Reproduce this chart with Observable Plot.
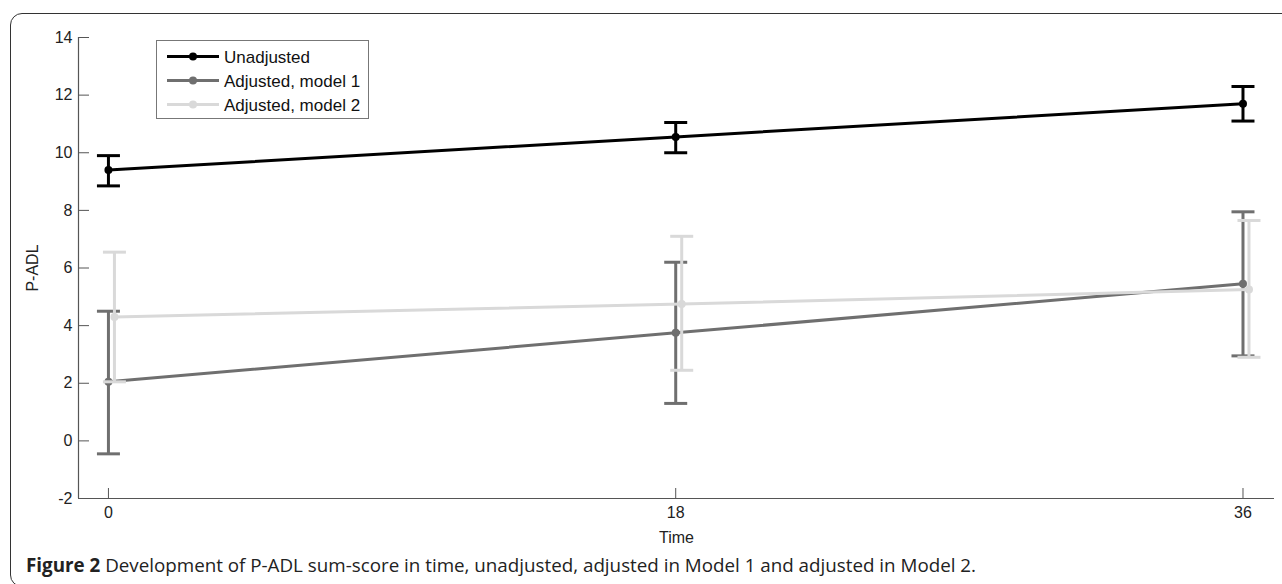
<!DOCTYPE html>
<html>
<head>
<meta charset="utf-8">
<script src="https://cdn.jsdelivr.net/npm/d3@7"></script>
<script src="https://cdn.jsdelivr.net/npm/@observablehq/plot@0.6"></script>
<style>
  html, body { margin: 0; padding: 0; background: #fff; }
  #wrap { position: relative; width: 1282px; height: 584px; overflow: hidden; background: #fff; }
  #frame { position: absolute; left: 10px; top: 13px; width: 1300px; height: 574px; border: 1.5px solid #333; border-radius: 12px; box-sizing: border-box; }
  #chart { position: absolute; left: 0; top: 0; }
  #legend { position: absolute; left: 156px; top: 40px; width: 213px; height: 79px; border: 1px solid #777; box-sizing: border-box; background: #fff; }
  #caption { position: absolute; left: 26px; top: 555px; font-family: "Open Sans", sans-serif; font-size: 18.8px; line-height: 20px; color: #222; white-space: nowrap; }
  #caption b { font-weight: 700; }
</style>
</head>
<body>
<div id="wrap">
  <div id="frame"></div>
  <div id="chart"></div>
  <div id="legend"></div>
  <div id="caption"><b>Figure 2</b> Development of P-ADL sum-score in time, unadjusted, adjusted in Model 1 and adjusted in Model 2.</div>
</div>
<script>
// ---- data ----
const times = [0, 18, 36];
const seriesNames = ["Unadjusted", "Adjusted, model 1", "Adjusted, model 2"];
const seriesColors = ["#000000", "#6f6f6f", "#d9d9d9"];
const seriesOffsets = [0, 0, 6];

const unadjMean = [9.4, 10.55, 11.7];
const unadjLow  = [8.85, 10.0, 11.1];
const unadjHigh = [9.9, 11.05, 12.3];

const m1Mean = [2.05, 3.75, 5.45];
const m1Low  = [-0.45, 1.3, 2.95];
const m1High = [4.5, 6.2, 7.95];

const m2Mean = [4.3, 4.75, 5.25];
const m2Low  = [2.05, 2.45, 2.9];
const m2High = [6.55, 7.1, 7.65];

const xTicks = [0, 18, 36];
const yTicks = [-2, 0, 2, 4, 6, 8, 10, 12, 14];

const seriesData = [
  [unadjMean, unadjLow, unadjHigh],
  [m1Mean, m1Low, m1High],
  [m2Mean, m2Low, m2High]
].map(([m, lo, hi], s) => times.map((t, i) => ({t, mean: m[i], lo: lo[i], hi: hi[i], series: seriesNames[s]})));

const capSymbol = { draw(ctx) { ctx.moveTo(-11.5, 0); ctx.lineTo(11.5, 0); } };

const font = "Liberation Sans, Arial, sans-serif";
const fmt = d => String(d);
const marks = [
  Plot.ruleY([-2], {stroke: "#555", strokeWidth: 1.2}),
  Plot.ruleX([-0.95], {stroke: "#555", strokeWidth: 1.2}),
  Plot.axisY(yTicks, {tickSize: -11, tickPadding: 17, stroke: "#555", fontSize: 16, fill: "#222", tickFormat: fmt,
    label: "P-ADL", labelAnchor: "center", labelArrow: "none", labelOffset: 52}),
  Plot.axisX(xTicks, {tickSize: -10, tickPadding: 18, stroke: "#555", fontSize: 16, fill: "#222", tickFormat: fmt,
    label: "Time", labelAnchor: "center", labelArrow: "none", labelOffset: 44})
];
const order = [1, 2, 0];
for (const s of order) {
  const data = seriesData[s];
  const c = seriesColors[s];
  const dx = seriesOffsets[s];
  marks.push(
    Plot.line(data, {x: "t", y: "mean", stroke: c, strokeWidth: 3, dx}),
    Plot.ruleX(data, {x: "t", y1: "lo", y2: "hi", stroke: c, strokeWidth: 3, dx}),
    Plot.dot(data, {x: "t", y: "lo", symbol: capSymbol, stroke: c, strokeWidth: 3, fill: "none", dx}),
    Plot.dot(data, {x: "t", y: "hi", symbol: capSymbol, stroke: c, strokeWidth: 3, fill: "none", dx}),
    Plot.dot(data, {x: "t", y: "mean", r: 4, fill: c, stroke: "none", dx})
  );
}

const chart = Plot.plot({
  width: 1282,
  height: 548,
  marginLeft: 78,
  marginRight: 8,
  marginTop: 37,
  marginBottom: 50,
  style: {fontFamily: font, fontSize: "16px", background: "transparent", color: "#222"},
  x: {domain: [-0.95, 37], axis: null},
  y: {domain: [-2, 14], axis: null},
  marks
});
document.getElementById("chart").appendChild(chart);

// ---- legend ----
const lg = d3.select("#legend").append("svg").attr("width", 211).attr("height", 77)
  .style("position", "absolute").style("left", "0px").style("top", "0px");
seriesNames.forEach((name, i) => {
  const y = 15.5 + i * 24;
  lg.append("line").attr("x1", 10).attr("x2", 62).attr("y1", y).attr("y2", y)
    .attr("stroke", seriesColors[i]).attr("stroke-width", 3);
  lg.append("circle").attr("cx", 36).attr("cy", y).attr("r", 4).attr("fill", seriesColors[i]);
  lg.append("text").attr("x", 67).attr("y", y).attr("dy", "0.36em")
    .attr("font-family", font).attr("font-size", 17).attr("fill", "#111").text(name);
});
</script>
</body>
</html>
